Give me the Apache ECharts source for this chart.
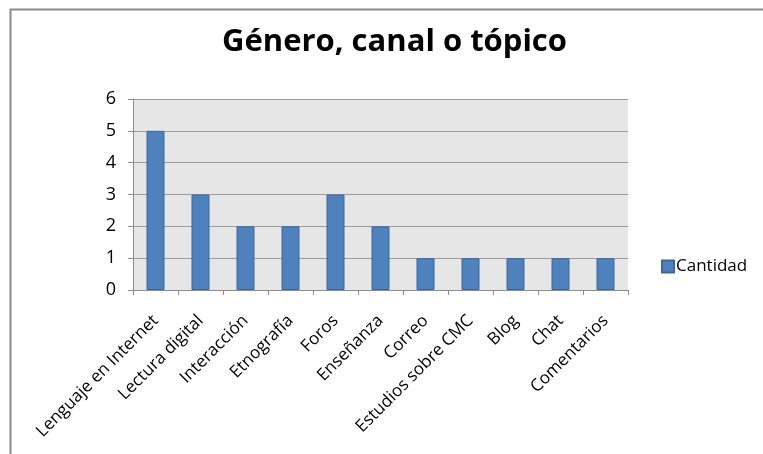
<!DOCTYPE html>
<html>
<head>
<meta charset="utf-8">
<script src="https://cdn.jsdelivr.net/npm/echarts@6/dist/echarts.min.js"></script>
<style>html,body{margin:0;padding:0;background:#fff;}#c{width:763px;height:454px;}</style>
</head>
<body>
<div id="c"></div>
<script>
const categories = ["Lenguaje en Internet","Lectura digital","Interacción","Etnografía","Foros","Enseñanza","Correo","Estudios sobre CMC","Blog","Chat","Comentarios"];
const cantidad = [5,3,2,2,3,2,1,1,1,1,1];
const yTicks = [0,1,2,3,4,5,6];

const chart = echarts.init(document.getElementById('c'));
const FONT = '"Open Sans"';
chart.setOption({
  animation: false,
  backgroundColor: '#fff',
  title: {
    text: 'Género, canal o tópico',
    left: 217,
    top: 22,
    textStyle: {fontFamily: FONT, fontSize: 31, fontWeight: 'bold', color: '#000'}
  },
  graphic: [{
    type: 'rect', silent: true,
    shape: {x: 10.5, y: 9.5, width: 800, height: 500},
    style: {fill: 'none', stroke: '#8a8a8a', lineWidth: 2}
  }],
  legend: {
    data: ['Cantidad'],
    orient: 'vertical',
    left: 656,
    top: 253,
    itemWidth: 12,
    itemHeight: 12,
    itemGap: 4,
    icon: 'rect',
    textStyle: {fontFamily: FONT, fontSize: 17, color: '#000', padding: [0,0,0,-3]}
  },
  grid: {left: 133, right: 135, top: 99, bottom: 164, show: true, backgroundColor: '#e6e6e6', borderWidth: 0},
  xAxis: {
    type: 'category',
    data: categories,
    boundaryGap: true,
    axisLine: {show: true, lineStyle: {color: '#8c8c8c', width: 1}},
    axisTick: {show: true, alignWithLabel: false, length: 5, lineStyle: {color: '#8c8c8c'}},
    axisLabel: {rotate: 45, interval: 0, fontFamily: FONT, fontSize: 17, color: '#000', margin: 28}
  },
  yAxis: {
    type: 'value',
    min: yTicks[0],
    max: yTicks[yTicks.length - 1],
    interval: 1,
    axisLine: {show: true, lineStyle: {color: '#8c8c8c', width: 1}},
    axisTick: {show: true, length: 5, lineStyle: {color: '#8c8c8c'}},
    axisLabel: {fontFamily: FONT, fontSize: 18, color: '#000', margin: 17},
    splitLine: {show: true, lineStyle: {color: '#9c9c9c', width: 1}}
  },
  series: [{
    name: 'Cantidad',
    type: 'bar',
    data: cantidad,
    barWidth: '40%',
    itemStyle: {color: '#4f81bd', borderColor: '#3b679c', borderWidth: 1}
  }]
});
</script>
</body>
</html>
